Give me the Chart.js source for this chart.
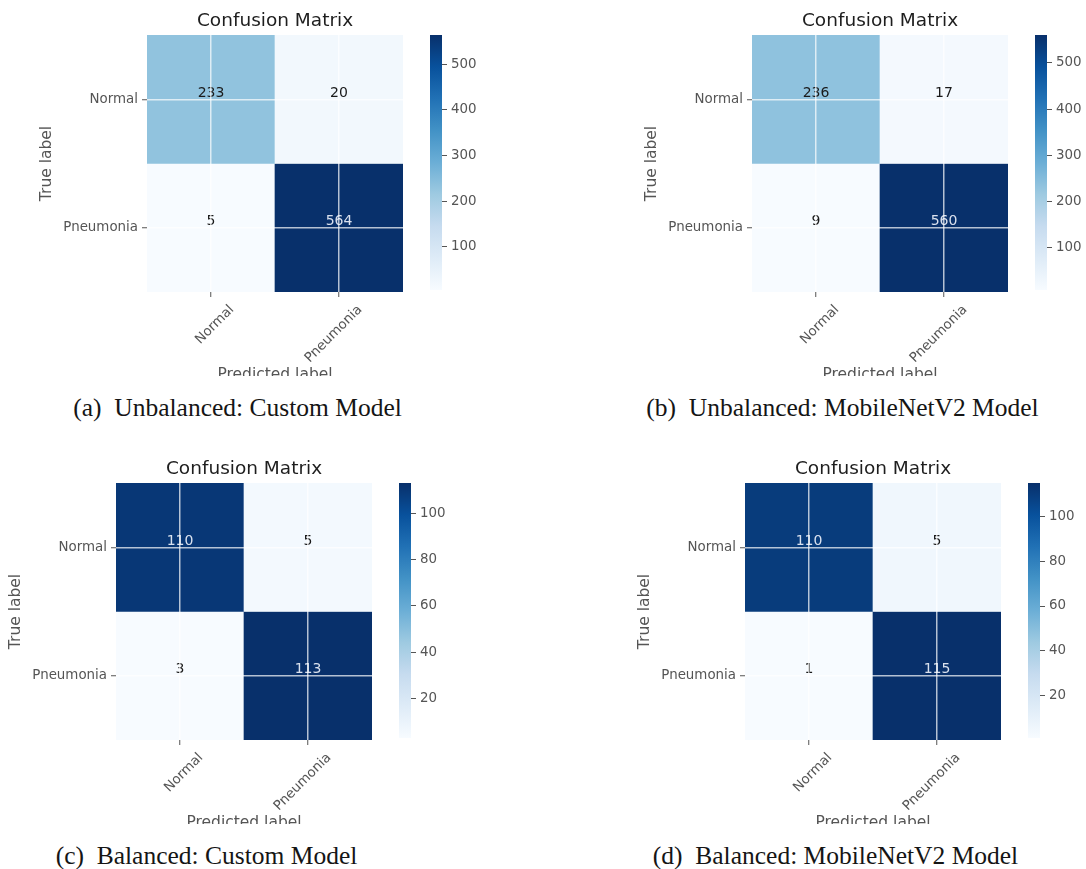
<!DOCTYPE html>
<html>
<head>
<meta charset="utf-8">
<script src="https://cdn.jsdelivr.net/npm/chart.js@4.4.1/dist/chart.umd.min.js"></script>
<style>
html,body{margin:0;padding:0;background:#fff;overflow:hidden;width:1086px;height:869px;position:relative}
.clip{position:absolute;overflow:hidden}
.clip canvas{position:absolute;left:0;top:0}
.cb{position:absolute}
.cap{position:absolute;font-family:"Liberation Serif","Times New Roman",serif;font-size:25.5px;line-height:25.5px;color:#151515;white-space:pre;transform:translateX(-50%)}
</style>
</head>
<body>
<script>
// ---- data ----
const classLabels = ['Normal', 'Pneumonia'];
const matrixA = [[233, 20], [5, 564]];
const matrixB = [[236, 17], [9, 560]];
const matrixC = [[110, 5], [3, 113]];
const matrixD = [[110, 5], [1, 115]];
const colorbarTicksA = [100, 200, 300, 400, 500];
const colorbarTicksB = [100, 200, 300, 400, 500];
const colorbarTicksC = [20, 40, 60, 80, 100];
const colorbarTicksD = [20, 40, 60, 80, 100];
const chartTitle = 'Confusion Matrix';
const xAxisTitle = 'Predicted label';
const yAxisTitle = 'True label';
const captions = ['(a)  Unbalanced: Custom Model', '(b)  Unbalanced: MobileNetV2 Model',
                  '(c)  Balanced: Custom Model', '(d)  Balanced: MobileNetV2 Model'];

// ---- style / layout ----
const BLUES = ['#f7fbff','#deebf7','#c6dbef','#9ecae1','#6baed6','#4292c6','#2171b5','#08519c','#08306b'];
const FONT = 'DejaVu Sans';
const GREY = '#555555';
Chart.defaults.font.family = FONT;

function hexRgb(h){ return [parseInt(h.slice(1,3),16), parseInt(h.slice(3,5),16), parseInt(h.slice(5,7),16)]; }
function blues(t){
  t = Math.max(0, Math.min(1, t));
  const n = BLUES.length - 1, p = t * n;
  const i = Math.min(Math.floor(p), n - 1), f = p - i;
  const a = hexRgb(BLUES[i]), b = hexRgb(BLUES[i + 1]);
  return 'rgb(' + a.map((v, k) => Math.round(v + (b[k] - v) * f)).join(',') + ')';
}

const AREA_L = 147, AREA_T = 35, AREA_W = 256, AREA_H = 257;
const CANVAS_W = AREA_L + AREA_W + 16, CANVAS_H = AREA_T + AREA_H + 109, CLIP_H = AREA_T + AREA_H + 84;

const cellText = {
  id: 'cellText',
  afterDatasetsDraw(chart) {
    const m = chart.config.options.plugins.cellText.matrix;
    const vmax = Math.max(...m.flat());
    const ctx = chart.ctx;
    ctx.save();
    ctx.font = '14px "' + FONT + '"';
    ctx.textAlign = 'center';
    ctx.textBaseline = 'middle';
    m.forEach((row, r) => {
      const meta = chart.getDatasetMeta(r);
      row.forEach((v, c) => {
        const el = meta.data[c];
        const p = el.getProps(['x', 'y', 'base'], true);
        ctx.fillStyle = v > vmax / 2 ? 'rgba(235,240,248,0.92)' : '#1a1a1a';
        ctx.fillText(String(v), p.x, (p.y + p.base) / 2 - 6);
      });
    });
    ctx.restore();
  }
};

function makeHeatmap(canvas, matrix) {
  const flat = matrix.flat();
  const vmin = Math.min(...flat), vmax = Math.max(...flat);
  const datasets = matrix.map((row, r) => ({
    data: classLabels.map((c) => ({ x: c, y: [r, r + 1] })),
    backgroundColor: row.map(v => blues((v - vmin) / (vmax - vmin))),
    borderWidth: 0, barPercentage: 1, categoryPercentage: 1, grouped: false
  }));
  const gridOpts = { offset: false, z: 1, color: 'rgba(255,255,255,0.7)', lineWidth: 1.5,
                     tickColor: GREY, tickLength: 5, tickWidth: 1 };
  new Chart(canvas, {
    type: 'bar',
    data: { labels: classLabels, datasets },
    options: {
      responsive: false, animation: false, events: [],
      layout: { padding: { left: 0, right: 16, top: 0, bottom: 0 } },
      plugins: {
        legend: { display: false }, tooltip: { enabled: false },
        cellText: { matrix },
        title: { display: true, text: chartTitle, fullSize: false, color: '#1e1e1e',
                 font: { family: FONT, size: 18.5, weight: 'normal' }, padding: { top: 10.4, bottom: 2.4 } }
      },
      scales: {
        x: {
          type: 'category', offset: true,
          grid: gridOpts, border: { display: false },
          ticks: { color: GREY, font: { size: 13.4 }, minRotation: 45, maxRotation: 45, autoSkip: false,
                   padding: 5, labelOffset: 21 },
          title: { display: true, text: xAxisTitle, color: GREY, font: { size: 15.5 }, padding: { top: 0, bottom: 16.7 } },
          afterFit(s) { s.height = CANVAS_H - AREA_T - AREA_H; }
        },
        y: {
          type: 'linear', min: 0, max: 2, reverse: true,
          grid: gridOpts, border: { display: false },
          afterBuildTicks(s) { s.ticks = classLabels.map((_, i) => ({ value: i + 0.5 })); },
          ticks: { color: GREY, font: { size: 13.4 }, padding: 4, callback: (v, i) => classLabels[i] },
          title: { display: true, text: yAxisTitle, color: GREY, font: { size: 15.5 }, padding: { top: 37.7, bottom: 0 } },
          afterFit(s) { s.width = AREA_L; }
        }
      }
    },
    plugins: [cellText]
  });
  return { vmin, vmax };
}

function makeColorbar(canvas, vmin, vmax, tickValues) {
  new Chart(canvas, {
    type: 'bar',
    data: { labels: ['cb'], datasets: [{
      data: [{ x: 'cb', y: [vmin, vmax] }],
      borderWidth: 0, barPercentage: 1, categoryPercentage: 1,
      backgroundColor(ctx) {
        const ca = ctx.chart.chartArea;
        if (!ca) return BLUES[0];
        const g = ctx.chart.ctx.createLinearGradient(0, ca.bottom, 0, ca.top);
        BLUES.forEach((c, i) => g.addColorStop(i / (BLUES.length - 1), c));
        return g;
      }
    }] },
    options: {
      responsive: false, animation: false, events: [],
      layout: { padding: { left: 10, right: 0, top: AREA_T, bottom: 10 } },
      plugins: { legend: { display: false }, tooltip: { enabled: false } },
      scales: {
        x: { display: false },
        y: {
          type: 'linear', position: 'right', min: vmin, max: vmax,
          grid: { drawOnChartArea: false, drawTicks: true, tickLength: 5, tickColor: GREY, tickWidth: 1 },
          border: { display: false },
          afterBuildTicks(s) { s.ticks = tickValues.map(v => ({ value: v })); },
          ticks: { color: GREY, font: { size: 13.4 }, padding: 4 },
          afterFit(s) { s.width = 40; }
        }
      }
    }
  });
}

const panels = [
  { matrix: matrixA, ticks: colorbarTicksA, caption: captions[0], left: 147, top: 35 },
  { matrix: matrixB, ticks: colorbarTicksB, caption: captions[1], left: 752, top: 35 },
  { matrix: matrixC, ticks: colorbarTicksC, caption: captions[2], left: 116, top: 483 },
  { matrix: matrixD, ticks: colorbarTicksD, caption: captions[3], left: 745, top: 483 }
];

panels.forEach(p => {
  const clip = document.createElement('div');
  clip.className = 'clip';
  clip.style.left = (p.left - AREA_L) + 'px';
  clip.style.top = (p.top - AREA_T) + 'px';
  clip.style.width = CANVAS_W + 'px';
  clip.style.height = CLIP_H + 'px';
  const cv = document.createElement('canvas');
  cv.width = CANVAS_W; cv.height = CANVAS_H;
  cv.style.width = CANVAS_W + 'px'; cv.style.height = CANVAS_H + 'px';
  clip.appendChild(cv);
  document.body.appendChild(clip);
  const r = makeHeatmap(cv, p.matrix);

  const cb = document.createElement('canvas');
  cb.className = 'cb';
  const cbW = 10 + 12 + 40, cbH = AREA_T + AREA_H + 10;
  cb.width = cbW; cb.height = cbH;
  cb.style.width = cbW + 'px'; cb.style.height = cbH + 'px';
  cb.style.left = (p.left + AREA_W + 17) + 'px';
  cb.style.top = (p.top - AREA_T) + 'px';
  document.body.appendChild(cb);
  makeColorbar(cb, r.vmin, r.vmax, p.ticks);

  const cap = document.createElement('div');
  cap.className = 'cap';
  cap.textContent = p.caption;
  cap.style.left = (p.left + AREA_W / 2 - 37.5) + 'px';
  cap.style.top = (p.top + AREA_H + 102.6) + 'px';
  document.body.appendChild(cap);
});
</script>
</body>
</html>
